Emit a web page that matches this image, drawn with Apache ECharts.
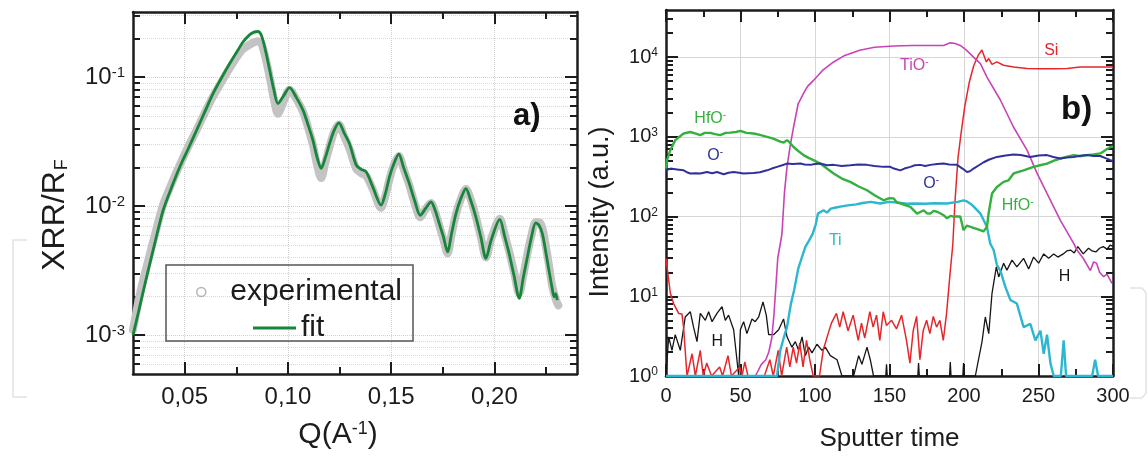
<!DOCTYPE html>
<html>
<head>
<meta charset="utf-8">
<script src="https://cdn.jsdelivr.net/npm/echarts@6/dist/echarts.min.js"></script>
<style>
  html, body { margin: 0; padding: 0; background: #fff; }
  #main { width: 1148px; height: 457px; }
</style>
</head>
<body>
<div id="main"></div>
<script>
// ---- panel a) XRR / R_F versus Q ----
var qMajor = [0.05, 0.10, 0.15, 0.20];
var qMinor = [0.075, 0.125, 0.175, 0.225];
var rMajor = [1e-3, 1e-2, 1e-1];
var rMinor = [6e-4, 7e-4, 8e-4, 9e-4, 2e-3, 3e-3, 4e-3, 5e-3, 6e-3, 7e-3, 8e-3, 9e-3,
  2e-2, 3e-2, 4e-2, 5e-2, 6e-2, 7e-2, 8e-2, 9e-2, 2e-1, 3e-1];

var fitData = [
  [0.025, 1.0e-3], [0.0284, 1.7e-3], [0.0316, 2.83e-3], [0.0356, 5.2e-3], [0.0396, 9.3e-3],
  [0.0437, 0.014], [0.0477, 0.0202], [0.0518, 0.028], [0.0558, 0.0388], [0.0598, 0.054],
  [0.0638, 0.0748], [0.0679, 0.099], [0.0719, 0.128], [0.0759, 0.163], [0.0783, 0.188],
  [0.0823, 0.218], [0.0855, 0.226], [0.0872, 0.21], [0.0892, 0.16], [0.0912, 0.113],
  [0.0932, 0.08], [0.0952, 0.0625], [0.098, 0.072], [0.1008, 0.083], [0.104, 0.07],
  [0.1073, 0.0555], [0.1097, 0.043], [0.1121, 0.0325], [0.1141, 0.024], [0.1161, 0.0196],
  [0.1182, 0.024], [0.1202, 0.0306], [0.1225, 0.039], [0.1247, 0.0443], [0.1272, 0.037],
  [0.1298, 0.0306], [0.1331, 0.0208], [0.1355, 0.0193], [0.1379, 0.0185], [0.1411, 0.0141],
  [0.1451, 0.0102], [0.1472, 0.0125], [0.1492, 0.0169], [0.1514, 0.0215], [0.1537, 0.0253],
  [0.156, 0.02], [0.1588, 0.015], [0.1614, 0.011], [0.1641, 0.0085], [0.1667, 0.0096],
  [0.1693, 0.0108], [0.1713, 0.0093], [0.1733, 0.00734], [0.1753, 0.0058], [0.1773, 0.00443],
  [0.1794, 0.0063], [0.1814, 0.00877], [0.1838, 0.0115], [0.1862, 0.0137], [0.1886, 0.011],
  [0.191, 0.00826], [0.1935, 0.0057], [0.1959, 0.00394], [0.1985, 0.0055], [0.2026, 0.00789],
  [0.205, 0.0058], [0.2071, 0.0043], [0.2095, 0.0029], [0.212, 0.00193], [0.214, 0.0028],
  [0.216, 0.00405], [0.218, 0.0058], [0.22, 0.00743], [0.2216, 0.0071], [0.2232, 0.00614],
  [0.2248, 0.0045], [0.2264, 0.00319], [0.228, 0.0023], [0.2289, 0.00198], [0.2297, 0.0021],
  [0.2304, 0.00187]
];

var expData = [
  [0.025, 1.1e-3], [0.0284, 2.1e-3], [0.0316, 3.4e-3], [0.0356, 6.0e-3], [0.0396, 0.0103],
  [0.0437, 0.015], [0.0477, 0.021], [0.0518, 0.029], [0.0558, 0.039], [0.0598, 0.053],
  [0.0638, 0.071], [0.0679, 0.092], [0.0719, 0.118], [0.0759, 0.148], [0.0783, 0.165],
  [0.0823, 0.182], [0.0855, 0.19], [0.0872, 0.182], [0.0892, 0.14], [0.0912, 0.1],
  [0.0932, 0.068], [0.0952, 0.052], [0.0975, 0.062], [0.1008, 0.08], [0.104, 0.068],
  [0.1073, 0.054], [0.1097, 0.041], [0.1121, 0.030], [0.1141, 0.021], [0.1161, 0.0165],
  [0.1182, 0.022], [0.1202, 0.029], [0.1225, 0.038], [0.1247, 0.043], [0.1272, 0.035],
  [0.1298, 0.028], [0.1331, 0.0195], [0.1355, 0.018], [0.1379, 0.0172], [0.1411, 0.0135],
  [0.1451, 0.0097], [0.1472, 0.012], [0.1492, 0.0162], [0.1514, 0.021], [0.1537, 0.0245],
  [0.156, 0.0195], [0.1588, 0.0145], [0.1614, 0.0105], [0.1641, 0.0082], [0.1667, 0.0095],
  [0.1693, 0.0106], [0.1713, 0.009], [0.1733, 0.0071], [0.1753, 0.0055], [0.1773, 0.0043],
  [0.1794, 0.0062], [0.1814, 0.0087], [0.1838, 0.0114], [0.1862, 0.0136], [0.1886, 0.0112],
  [0.191, 0.0083], [0.1935, 0.0057], [0.1959, 0.004], [0.1985, 0.0056], [0.2026, 0.008],
  [0.205, 0.006], [0.2071, 0.0045], [0.2095, 0.0031], [0.212, 0.0021], [0.214, 0.0029],
  [0.216, 0.0043], [0.218, 0.006], [0.22, 0.0075], [0.2216, 0.0075], [0.2232, 0.0068],
  [0.2248, 0.005], [0.2264, 0.0035], [0.228, 0.0024], [0.2297, 0.0019], [0.231, 0.0017]
];

// ---- panel b) depth profile versus sputter time ----
var tMajor = [0, 50, 100, 150, 200, 250, 300];
var tMinor = [25, 75, 125, 175, 225, 275];
var iMajor = [1, 10, 100, 1000, 10000];
var iMinor = [2, 3, 4, 5, 6, 7, 8, 9, 20, 30, 40, 50, 60, 70, 80, 90,
  200, 300, 400, 500, 600, 700, 800, 900, 2000, 3000, 4000, 5000, 6000, 7000, 8000, 9000, 20000, 30000];

var tioData = [
  [0, 1], [20, 1], [40, 1], [60, 1], [64, 1.4], [67, 1.6], [69, 2.0], [71, 3], [72.5, 6],
  [75, 30], [77.8, 60], [79.5, 200], [81.2, 420], [83.5, 800], [85.6, 1320], [88.7, 2600],
  [92.3, 3500], [95, 4300], [99, 5100], [105, 6800], [112.5, 8700], [120, 10500], [130, 12200],
  [140, 13300], [152.8, 13800], [165, 14000], [175, 14000], [186.3, 14000], [190.8, 15100],
  [194, 14800], [197.5, 14000], [201, 12500], [204.2, 11000], [207.6, 9500], [211, 8300],
  [215.4, 5600], [224.4, 2900], [233.3, 1320], [242.3, 680], [249, 350], [255.7, 195],
  [264.6, 90], [273.6, 46], [275.8, 38], [280, 30], [284.8, 21], [287, 27], [289, 26],
  [291, 20], [293.7, 17.6], [296, 19], [299.3, 14.5]
];
var siData = [
  [0, 30], [1, 31], [2.9, 11], [5.1, 8.1], [8.5, 6.1], [10.7, 6], [11.8, 4.1], [14.1, 1],
  [17.5, 1.9], [19.7, 1], [23, 2.1], [25, 1], [27.3, 1.45], [30.6, 1], [36, 1.3], [38, 1],
  [41.6, 1.8], [43.9, 1], [49.5, 1.3], [51, 1], [52.9, 1.5], [55, 1], [66, 1], [69.7, 1.6],
  [72, 1], [75.3, 2.1], [77.6, 1], [81, 2.3], [83.1, 1.3], [85.4, 2.3], [87.6, 1.45],
  [89.8, 2.6], [92, 1.3], [94.3, 2.8], [96.5, 1.6], [98.8, 1], [103, 1], [105.5, 2.1],
  [108.8, 3.4], [111, 4.6], [114.4, 6.1], [116.6, 4.1], [118.9, 6.4], [122.2, 3.7],
  [125.6, 5.8], [129, 2.8], [131.2, 4.6], [133.4, 3], [136.8, 6.4], [139, 4.1], [141.3, 5.8],
  [143.5, 2.8], [145.8, 6.4], [148, 4.3], [151.4, 5.0], [154.7, 3.9], [158.1, 5.8],
  [161.4, 2.8], [163.7, 1.45], [165.9, 3.7], [168.2, 5.6], [170.4, 1.6], [172.6, 3.7],
  [174.9, 5], [177.1, 3.4], [179.4, 5.6], [181.6, 4.1], [183.8, 5], [186.1, 2.8], [188.3, 6.1],
  [190.5, 18], [192.5, 45], [194, 160], [196, 550], [198, 1100], [200.5, 2400], [203.5, 4800],
  [206.5, 7800], [209.5, 10500], [212, 12300], [213.3, 12700], [215, 8700], [216.6, 9600],
  [218.8, 8100], [222, 8700], [226.6, 7900], [233.3, 7500], [242.3, 7200], [251.3, 7150],
  [260, 7150], [269.2, 7200], [278, 7500], [290, 7500], [300, 7500]
];
var hfoData = [
  [0, 400], [0.7, 510], [2.9, 680], [6.2, 910], [11.8, 1100], [16.3, 1150], [20, 1100],
  [23, 1050], [26, 1120], [29.7, 1120], [33, 1080], [36.4, 1050], [40, 1120], [43.1, 1130],
  [47, 1150], [49.9, 1190], [54, 1120], [58.8, 1100], [63, 1060], [67.8, 1000], [72, 950],
  [76.7, 870], [79, 850], [81.2, 910], [83, 850], [85.6, 745], [89, 660], [92.3, 590],
  [96, 540], [99, 510], [103.5, 462], [108, 400], [112.5, 347], [118, 300], [123.7, 272],
  [129, 240], [134.9, 214], [140, 185], [146, 160], [150, 170], [152.8, 169], [155, 150],
  [157.2, 146], [160, 140], [164, 132], [168.5, 109], [171, 115], [173, 120], [175, 110],
  [177.4, 109], [179.6, 118], [181.9, 115], [184, 110], [186.3, 104], [188.6, 95], [191, 102],
  [193, 100], [197.5, 100], [199.7, 67.5], [201.9, 77], [206.4, 72], [210.9, 67.5], [213, 65],
  [215.4, 74], [216.5, 109], [218.8, 195], [222.1, 235], [226.6, 272], [229.9, 285],
  [233.3, 347], [236, 360], [240, 380], [246.7, 420], [251, 440], [255.7, 462], [260, 500],
  [264.6, 535], [273.6, 590], [278, 570], [282.6, 590], [287, 600], [291.5, 620], [294.8, 680],
  [298.2, 745], [300, 760]
];
var oData = [
  [0, 380], [3, 400], [7.4, 390], [11.8, 380], [14, 360], [16.3, 347], [20, 350], [23, 347],
  [27.5, 362], [31, 350], [34.2, 362], [38.7, 340], [42, 355], [45.4, 362], [49, 355],
  [52.1, 347], [55, 350], [58.8, 352], [63, 360], [67.8, 380], [71, 400], [74.5, 420],
  [78, 440], [81.2, 462], [85, 455], [90.2, 462], [93, 450], [96.9, 445], [100, 455],
  [103.5, 462], [108, 440], [112.5, 445], [118, 430], [123.7, 440], [129, 450], [134.9, 445],
  [140, 430], [146, 420], [150.5, 420], [153, 400], [157.2, 380], [160, 400], [164, 420],
  [167, 440], [170.7, 445], [174, 430], [177.4, 445], [182, 455], [186.3, 462], [190, 450],
  [195.3, 445], [199, 400], [202, 362], [204, 370], [206.4, 400], [210, 440], [213.2, 480],
  [217, 520], [222.1, 560], [228, 585], [233.3, 600], [238, 590], [244.5, 560], [250, 585],
  [255.7, 590], [260, 560], [264.6, 535], [269, 550], [273.6, 560], [278, 580], [282.6, 590],
  [287, 575], [291.5, 575], [295, 540], [298.2, 510], [300, 500]
];
var tiData = [
  [0, 1], [40, 1], [74.5, 1], [76.7, 2.1], [79, 3], [81.2, 4.1], [83.8, 8], [86, 12],
  [88.7, 22], [91, 30], [93.6, 42], [96, 50], [98.5, 61], [100.5, 80], [102, 109], [104, 115],
  [105.7, 120], [108, 112], [110.6, 126], [114, 130], [118, 134], [122, 138], [127.7, 142],
  [132, 148], [137.4, 153], [143.8, 146], [149.6, 153], [155, 150], [161.7, 145], [166.2, 146],
  [173.9, 145], [180, 147], [188.6, 146], [195.8, 153], [199.7, 160], [202, 155], [205, 142],
  [208, 125], [211, 109], [213, 92], [215.4, 74], [217.6, 46], [219.9, 38], [222.1, 24.6],
  [224.4, 21], [227.7, 13.2], [231.1, 9], [235.5, 8.1], [240, 4.1], [244.5, 4.5], [247.9, 2.8],
  [251.3, 3.7], [253.5, 1.9], [255.7, 3.3], [258, 1.45], [260.2, 1], [265, 1], [266.9, 2.8],
  [268.5, 1], [286, 1], [288, 1.6], [290, 1], [300, 1]
];
var hData = [
  [0, 1], [1.8, 3.1], [4, 2.1], [6.2, 3.3], [9.6, 2.1], [12.9, 5.5], [16.3, 6.4], [18.5, 4.1],
  [20.8, 2.7], [23, 6.1], [26.4, 5], [28.6, 6.4], [30.9, 4.8], [34.2, 6.1], [37.6, 7.4],
  [39.8, 5], [42, 5.8], [45.4, 3.8], [48.8, 1], [49.9, 3.8], [52.1, 4.8], [54.3, 3.4],
  [57.7, 5.2], [59.9, 4.8], [62.2, 5.5], [65.1, 8.5], [67.3, 5.8], [68.9, 3.3], [72.2, 3.3],
  [75.6, 3.8], [78.9, 5.2], [81.2, 3.1], [84.5, 2.3], [86.8, 2.7], [89, 2.1], [91.3, 3.1],
  [93.5, 1.8], [95.7, 2.3], [98, 1.95], [101.3, 2.5], [104.7, 2.1], [106.9, 2.3], [110.3, 1.8],
  [114.8, 1.6], [118.1, 1], [125.9, 1], [129.3, 1.8], [131.5, 1.4], [134.9, 2.3], [137.1, 1.6],
  [139.3, 1], [147.5, 1], [148, 1.4], [148.5, 1], [169, 1], [169.5, 1.45], [170, 1], [190.3, 1],
  [190.8, 1.5], [191.3, 1], [199.2, 1], [199.7, 1.45], [200.2, 1], [207.6, 1], [212.1, 2.7],
  [214.3, 5.5], [216.6, 3.4], [218.8, 10.9], [221.7, 23.4], [223.3, 17.5], [226.6, 25.9],
  [228.8, 21.3], [232.2, 28.4], [235.5, 23.4], [240, 29.9], [243.4, 22], [246.7, 31],
  [250.1, 26], [253.5, 34], [256.8, 30], [260.2, 34], [263, 31], [266.6, 34], [269, 37],
  [271.5, 38], [274, 35], [276.4, 42], [280, 34], [283.6, 40], [286, 37], [288.5, 36],
  [291, 40], [293.4, 42], [296, 39], [298.2, 44], [300, 42]
];

var FONT = 'Liberation Sans';
var INK = '#1c1c1c';
var GREEN_FIT = '#17863a';
var C_TIO = '#c844b6', C_SI = '#e5272b', C_HFO = '#34b03f', C_O = '#30309c', C_TI = '#2cb6d0', C_H = '#151515';

var chart = echarts.init(document.getElementById('main'));

function powLabel(v) {
  return '10{s|' + Math.round(Math.log10(v)) + '}';
}

// one row of ticks on one side of a frame (kept plain: ticks only)
function edge(grid, side, scale, ticks, len, line) {
  var ax = {
    gridIndex: grid,
    position: side,
    axisLine: { show: line, onZero: false, lineStyle: { color: INK, width: 2.5 } },
    axisTick: { show: true, inside: true, length: len, customValues: ticks, lineStyle: { color: INK, width: 2 } },
    axisLabel: { show: false },
    splitLine: { show: false }
  };
  for (var k in scale) ax[k] = scale[k];
  return ax;
}

// labels, names and grid lines sit on their own axes without ticks
function labelled(grid, side, scale, ticks) {
  var ax = edge(grid, side, scale, ticks, 0, true);
  ax.axisTick = { show: false, customValues: ticks };
  return ax;
}

var qScale = { type: 'value', min: 0.025, max: 0.24 };
var rScale = { type: 'log', logBase: 10, min: 5e-4, max: 0.32 };
var tScale = { type: 'value', min: 0, max: 300 };
var iScale = { type: 'log', logBase: 10, min: 1, max: 3.9e4 };

var xA = labelled(0, 'bottom', qScale, qMajor);
xA.axisLabel = {
  show: true, customValues: qMajor, margin: 11, fontSize: 24, color: INK, fontFamily: FONT,
  formatter: function (v) { return v.toFixed(2).replace('.', ','); }
};
xA.splitLine = { show: true, lineStyle: { type: 'dotted', color: '#d0d0d0', width: 1 } };
xA.name = 'Q(A{s|-1})';
xA.nameLocation = 'middle';
xA.nameGap = 46;
xA.nameTextStyle = { fontSize: 30, color: INK, fontFamily: FONT, padding: [0, 34, 0, 0],
  rich: { s: { fontSize: 18, fontFamily: FONT, color: INK, verticalAlign: 'top' } } };

var yA = labelled(0, 'left', rScale, rMajor);
yA.axisLabel = {
  show: true, customValues: rMajor, margin: 8, fontSize: 24, color: INK, fontFamily: FONT,
  formatter: powLabel,
  rich: { s: { fontSize: 15, fontFamily: FONT, color: INK, verticalAlign: 'top' } }
};
yA.splitLine = { show: true, lineStyle: { type: 'dotted', color: '#d0d0d0', width: 1 } };
yA.name = 'XRR/R{f|F}';
yA.nameLocation = 'middle';
yA.nameGap = 62;
yA.nameTextStyle = { fontSize: 32, color: INK, fontFamily: FONT, padding: [0, 44, 0, 0],
  rich: { f: { fontSize: 18, fontFamily: FONT, color: INK, verticalAlign: 'bottom', padding: [0, 0, 0, 1] } } };

var xB = labelled(1, 'bottom', tScale, tMajor);
xB.axisLabel = { show: true, customValues: tMajor, margin: 10, fontSize: 20, color: INK, fontFamily: FONT };
xB.splitLine = { show: true, lineStyle: { color: '#d6d6d6', width: 1 } };
xB.name = 'Sputter time';
xB.nameLocation = 'middle';
xB.nameGap = 50;
xB.nameTextStyle = { fontSize: 26, color: INK, fontFamily: FONT };

var yB = labelled(1, 'left', iScale, iMajor);
yB.axisLabel = {
  show: true, customValues: iMajor, margin: 8, fontSize: 20, color: INK, fontFamily: FONT,
  formatter: powLabel,
  rich: { s: { fontSize: 12, fontFamily: FONT, color: INK, verticalAlign: 'top' } }
};
yB.splitLine = { show: true, lineStyle: { color: '#d6d6d6', width: 1 } };
yB.name = 'Intensity (a.u.)';
yB.nameLocation = 'middle';
yB.nameGap = 52;
yB.nameTextStyle = { fontSize: 27, color: INK, fontFamily: FONT, padding: [0, 38, 0, 0] };

// dotted minor grid of panel a
var xAgrid = { gridIndex: 6, show: false, type: 'value', min: 0.025, max: 0.24 };
var yAgrid = labelled(6, 'left', rScale, rMinor);
yAgrid.axisLine = { show: false, onZero: false };
yAgrid.splitLine = { show: true, lineStyle: { type: 'dotted', color: '#d8d8d8', width: 1 } };

var xAxes = [
  xA, edge(0, 'top', qScale, qMajor, 12, true),
  xB, edge(1, 'top', tScale, tMajor, 12, true),
  edge(2, 'bottom', qScale, qMinor, 7, false), edge(2, 'top', qScale, qMinor, 7, false),
  edge(3, 'bottom', tScale, tMinor, 7, false), edge(3, 'top', tScale, tMinor, 7, false),
  edge(4, 'bottom', qScale, qMajor, 12, false),
  edge(5, 'bottom', tScale, tMajor, 12, false),
  xAgrid
];
var yAxes = [
  yA, edge(0, 'right', rScale, rMajor, 12, true),
  yB, edge(1, 'right', iScale, iMajor, 12, true),
  edge(2, 'left', rScale, rMinor, 7, false), edge(2, 'right', rScale, rMinor, 7, false),
  edge(3, 'left', iScale, iMinor, 7, false), edge(3, 'right', iScale, iMinor, 7, false),
  edge(4, 'left', rScale, rMajor, 12, false),
  edge(5, 'left', iScale, iMajor, 12, false),
  yAgrid
];

function tags(color, items) {
  return {
    symbol: 'circle', symbolSize: 0, silent: true,
    label: {
      show: true, position: 'inside', color: color, fontSize: 16, fontFamily: FONT,
      formatter: function (p) { return p.name; },
      rich: { s: { fontSize: 10, color: color, fontFamily: FONT, verticalAlign: 'top' } }
    },
    data: items.map(function (it) { return { name: it[0], coord: it[1] }; })
  };
}

function profile(name, data, color, width, marks) {
  return {
    name: name, type: 'line', xAxisIndex: 2, yAxisIndex: 2, data: data,
    symbol: 'none', showSymbol: false,
    lineStyle: { color: color, width: width },
    itemStyle: { color: color },
    markPoint: tags(color, marks)
  };
}

var rectA = { left: 133, top: 12, width: 444, height: 362 };
var rectB = { left: 666, top: 10, width: 447, height: 366 };

var option = {
  animation: false,
  grid: [rectA, rectB, rectA, rectB, rectA, rectB, rectA],
  title: [
    { text: 'a)', left: 513, top: 101, padding: 0, textStyle: { fontSize: 31, fontWeight: 'bold', color: '#111', fontFamily: FONT } },
    { text: 'b)', left: 1061, top: 93, padding: 0, textStyle: { fontSize: 33, fontWeight: 'bold', color: '#111', fontFamily: FONT } }
  ],
  legend: [
    {
      data: [{ name: 'experimental', icon: 'circle', itemStyle: { color: '#fff', borderColor: '#b4b4b4', borderWidth: 1.5 } }],
      left: 196, top: 277, padding: 0, itemWidth: 48, itemHeight: 9, selectedMode: false,
      textStyle: { fontSize: 30, color: INK, fontFamily: FONT }
    },
    {
      data: [{ name: 'fit', icon: 'rect' }],
      left: 253, top: 313, padding: 0, itemWidth: 43, itemHeight: 3, selectedMode: false,
      textStyle: { fontSize: 30, color: INK, fontFamily: FONT }
    }
  ],
  graphic: [
    { type: 'rect', shape: { x: 166, y: 265, width: 247, height: 76 }, style: { fill: 'none', stroke: '#555', lineWidth: 1.5 }, z: 50 },
    { type: 'polyline', shape: { points: [[27, 240], [13, 240], [13, 397], [27, 397]] }, style: { fill: 'none', stroke: '#e2e2e2', lineWidth: 1.5 } },
    { type: 'polyline', shape: { points: [[1130, 288], [1142, 288], [1146, 293], [1146, 393], [1142, 398], [1130, 398]] }, style: { fill: 'none', stroke: '#e2e2e2', lineWidth: 1.5 } }
  ],
  xAxis: xAxes,
  yAxis: yAxes,
  series: [
    {
      name: 'experimental', type: 'line', xAxisIndex: 0, yAxisIndex: 0, data: expData,
      symbol: 'none', showSymbol: false, smooth: 0.3, z: 2,
      lineStyle: { color: '#c3c3c3', width: 8, cap: 'round', join: 'round' },
      itemStyle: { color: '#c3c3c3' }
    },
    {
      name: 'fit', type: 'line', xAxisIndex: 0, yAxisIndex: 0, data: fitData,
      symbol: 'none', showSymbol: false, smooth: 0.3, z: 3,
      lineStyle: { color: GREEN_FIT, width: 2.8 },
      itemStyle: { color: GREEN_FIT }
    },
    profile('H', hData, C_H, 1.3, [['H', [34.4, 2.67]], ['H', [267.4, 17.5]]]),
    profile('Si', siData, C_SI, 1.5, [['Si', [258.6, 12200]]]),
    profile('TiO-', tioData, C_TIO, 1.6, [['TiO{s|-}', [166.6, 7900]]]),
    profile('Ti', tiData, C_TI, 2.4, [['Ti', [113.6, 49.5]]]),
    profile('HfO-', hfoData, C_HFO, 2.4, [['HfO{s|-}', [29.7, 1710]], ['HfO{s|-}', [236, 139]]]),
    profile('O-', oData, C_O, 2, [['O{s|-}', [33, 588]], ['O{s|-}', [178, 262]]])
  ]
};

chart.setOption(option);
</script>
</body>
</html>
